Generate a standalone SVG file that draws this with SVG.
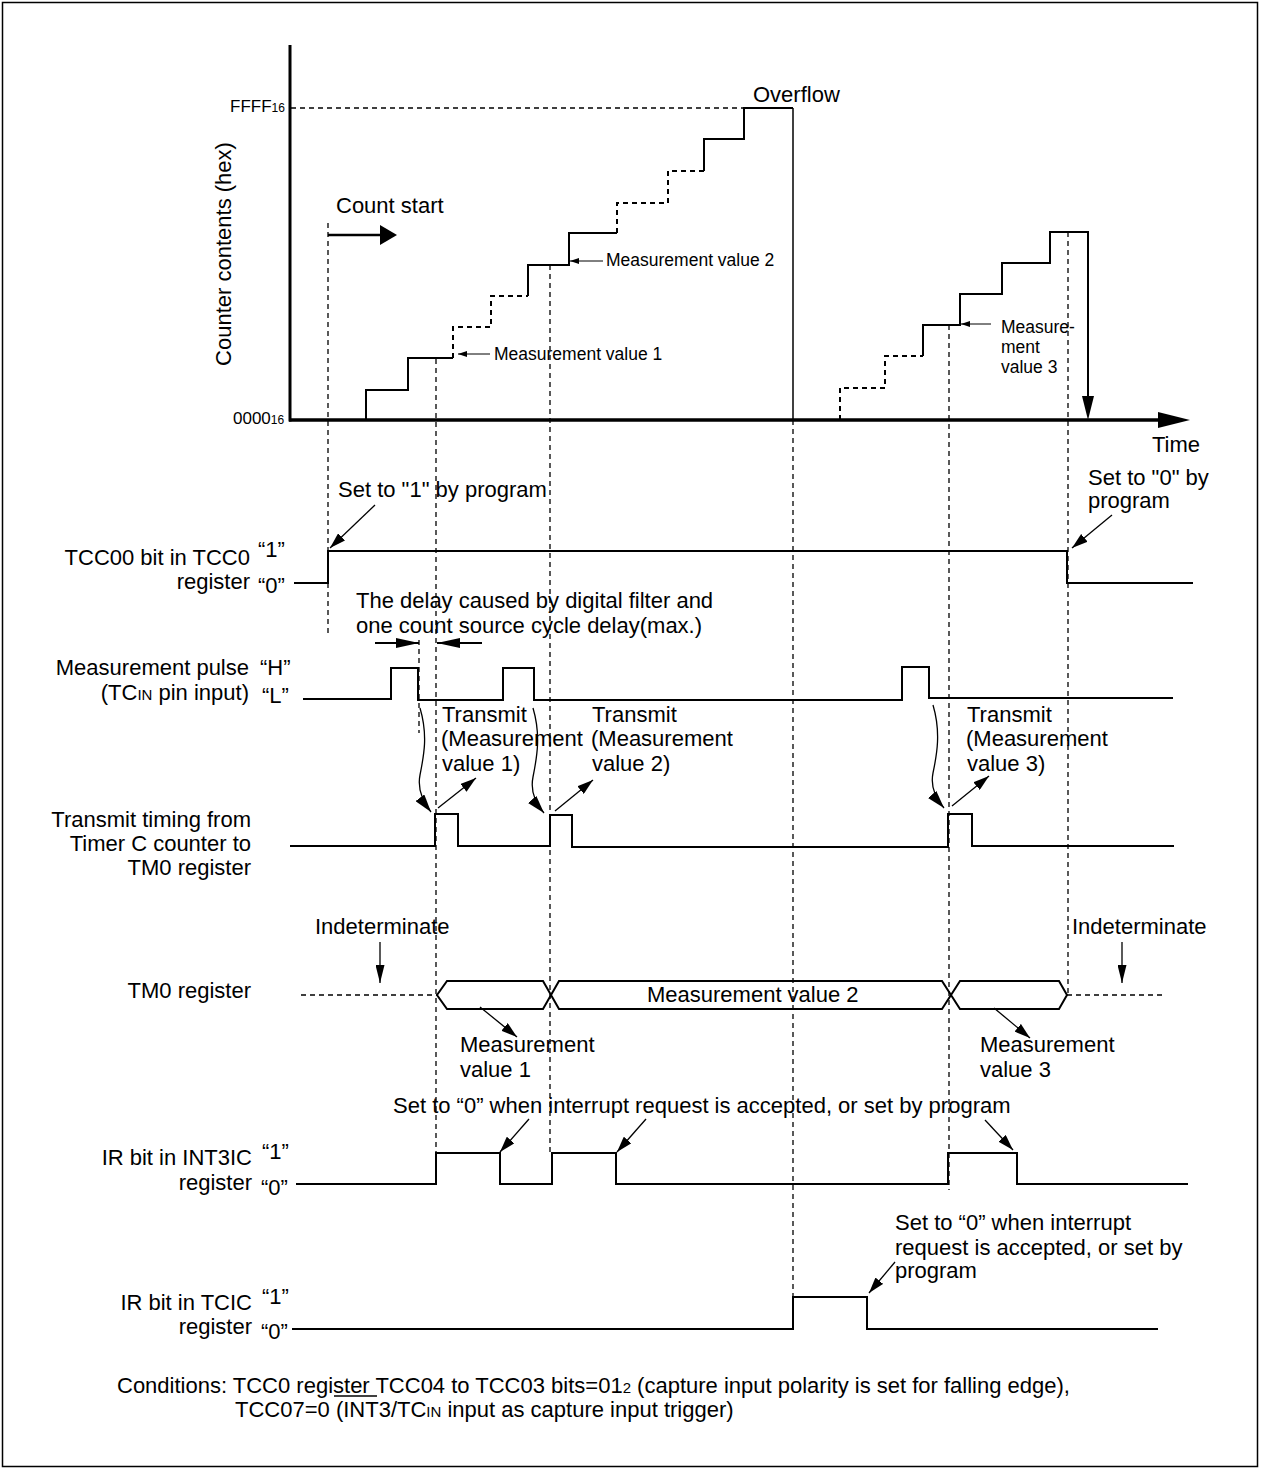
<svg xmlns="http://www.w3.org/2000/svg" width="1261" height="1470" viewBox="0 0 1261 1470">
<defs>
<style>
text { font-family: "Liberation Sans", Arial, Helvetica, sans-serif; fill: #000; }
.t { font-size: 22px; }
.s { font-size: 17.5px; }
.c { font-size: 22px; }
.e { text-anchor: end; }
.sig { fill: none; stroke: #000; stroke-width: 2; stroke-linejoin: miter; }
.sigd { fill: none; stroke: #000; stroke-width: 2; stroke-dasharray: 5 4; }
.dash { fill: none; stroke: #000; stroke-width: 1.3; stroke-dasharray: 5 4; }
.arr { fill: none; stroke: #000; stroke-width: 1.3; marker-end: url(#ah); }
.arrc { fill: none; stroke: #000; stroke-width: 1.3; marker-end: url(#ahc); }
.arrs { fill: none; stroke: #000; stroke-width: 1; marker-end: url(#ahs); }
.arrn { fill: none; stroke: #000; stroke-width: 1.3; marker-end: url(#ahn); }
.arrd { fill: none; stroke: #000; stroke-width: 2; marker-end: url(#ahd); }
</style>
<marker id="ah" markerUnits="userSpaceOnUse" markerWidth="16" markerHeight="10" refX="16" refY="5" orient="auto"><path d="M0,0 L16,5 L0,10 z"/></marker>
<marker id="ahc" markerUnits="userSpaceOnUse" markerWidth="18" markerHeight="11" refX="18" refY="5.5" orient="auto"><path d="M0,0 L18,5.5 L0,11 z"/></marker>
<marker id="ahs" markerUnits="userSpaceOnUse" markerWidth="9" markerHeight="6" refX="9" refY="3" orient="auto"><path d="M0,0 L9,3 L0,6 z"/></marker>
<marker id="ahn" markerUnits="userSpaceOnUse" markerWidth="18" markerHeight="9" refX="18" refY="4.5" orient="auto"><path d="M0,0 L18,4.5 L0,9 z"/></marker>
<marker id="ahd" markerUnits="userSpaceOnUse" markerWidth="23" markerHeight="10" refX="23" refY="5" orient="auto"><path d="M0,0 L23,5 L0,10 z"/></marker>
<marker id="ahb" markerUnits="userSpaceOnUse" markerWidth="17" markerHeight="20" refX="2" refY="10" orient="auto"><path d="M0,0 L17,10 L0,20 z"/></marker>
<marker id="ahv" markerUnits="userSpaceOnUse" markerWidth="24" markerHeight="12" refX="2" refY="6" orient="auto"><path d="M0,0 L24,6 L0,12 z"/></marker>
<marker id="ahx" markerUnits="userSpaceOnUse" markerWidth="32" markerHeight="16" refX="6" refY="8" orient="auto"><path d="M0,0 L32,8 L0,16 z"/></marker>
</defs>
<rect x="2.5" y="2.5" width="1255" height="1464" fill="#fff" stroke="#000" stroke-width="1.5"/>

<g id="graph">
<line x1="290" y1="45" x2="290" y2="421.5" stroke="#000" stroke-width="3"/>
<line x1="289" y1="420" x2="1164" y2="420" stroke="#000" stroke-width="3.5" marker-end="url(#ahx)"/>
<path class="dash" d="M291,108 H744"/>
<text x="230" y="112" style="font-size:17px">FFFF<tspan style="font-size:12px">16</tspan></text>
<text x="233" y="424" style="font-size:17px">0000<tspan style="font-size:12px">16</tspan></text>
<text class="t" transform="translate(231,254) rotate(-90)" text-anchor="middle">Counter contents (hex)</text>
<text class="t" x="336" y="213">Count start</text>
<line x1="328" y1="235" x2="382" y2="235" stroke="#000" stroke-width="2.5" marker-end="url(#ahb)"/>
<text class="t" x="753" y="102">Overflow</text>
<text class="t" x="1152" y="452">Time</text>
<path class="sig" d="M366,420 V390 H408 V358 H453"/>
<path class="sigd" d="M453,358 V327 H491 V296 H528"/>
<path class="sig" d="M528,296 V265 H569 V233 H617"/>
<path class="sigd" d="M617,233 V203 H668 V171 H704"/>
<path class="sig" d="M704,171 V139 H744 V108 H793"/>
<path fill="none" stroke="#000" stroke-width="1.5" d="M793,108 V420"/>
<path class="sigd" d="M840,420 V388 H885 V356 H923"/>
<path class="sig" d="M923,356 V325 H960 V294 H1002 V263 H1050 V232 H1088 V398" marker-end="url(#ahv)"/>
<line class="arrs" x1="490" y1="354" x2="458" y2="354"/>
<text class="s" x="494" y="360">Measurement value 1</text>
<line class="arrs" x1="603" y1="261" x2="570" y2="261"/>
<text class="s" x="606" y="266">Measurement value 2</text>
<line class="arrs" x1="991" y1="324" x2="961" y2="324"/>
<text class="s" x="1001" y="333">Measure-</text>
<text class="s" x="1001" y="353">ment</text>
<text class="s" x="1001" y="373">value 3</text>
</g>

<g id="guides">
<path class="dash" d="M328,223 V633"/>
<path class="dash" d="M436,359 V1153"/>
<path class="dash" d="M550,265 V1153"/>
<path class="dash" d="M793,420 V1297"/>
<path class="dash" d="M949,325 V1190"/>
<path class="dash" d="M1068,232 V995"/>
<path class="dash" d="M419,640 V733" stroke-dasharray="7 3 1 3"/>
</g>

<g id="tcc00">
<text class="t e" x="250" y="565">TCC00 bit in TCC0</text>
<text class="t" x="258" y="557">“1”</text>
<text class="t e" x="250" y="589">register</text>
<text class="t" x="258" y="593">“0”</text>
<path class="sig" d="M294,583 H328 V551 H1067 V583 H1193"/>
<text class="t" x="338" y="497">Set to "1" by program</text>
<text class="t" x="1088" y="485">Set to "0" by</text>
<text class="t" x="1088" y="508">program</text>
</g>

<g id="delay">
<text class="t" x="356" y="608">The delay caused by digital filter and</text>
<text class="t" x="356" y="633">one count source cycle delay(max.)</text>
</g>

<g id="pulse">
<text class="t e" x="249" y="675">Measurement pulse</text>
<text class="t" x="260" y="675">“H”</text>
<text class="t e" x="249" y="700">(TC<tspan style="font-size:15px">IN</tspan> pin input)</text>
<text class="t" x="262" y="703">“L”</text>
<path class="sig" d="M303,699 H391 V668 H418 V700 H503 V668 H534 V700 H902 V667 H929 V698 H1173"/>
</g>

<g id="transmit-labels">
<text class="t" x="442" y="722">Transmit</text>
<text class="t" x="441" y="746">(Measurement</text>
<text class="t" x="442" y="771">value 1)</text>
<text class="t" x="592" y="722">Transmit</text>
<text class="t" x="591" y="746">(Measurement</text>
<text class="t" x="592" y="771">value 2)</text>
<text class="t" x="967" y="722">Transmit</text>
<text class="t" x="966" y="746">(Measurement</text>
<text class="t" x="967" y="771">value 3)</text>
</g>

<g id="transmit-timing">
<text class="t e" x="251" y="827">Transmit timing from</text>
<text class="t e" x="251" y="851">Timer C counter to</text>
<text class="t e" x="251" y="875">TM0 register</text>
<path class="sig" d="M290,846 H435 V814 H458 V846 H550 V815 H572 V847 H948 V814 H972 V846 H1174"/>
</g>

<g id="tm0">
<text class="t" x="315" y="934">Indeterminate</text>
<text class="t" x="1072" y="934">Indeterminate</text>
<text class="t e" x="251" y="998">TM0 register</text>
<path class="dash" d="M301,995 H437"/>
<polygon class="sig" points="437,995 447,981 543,981 551,995 543,1009 447,1009"/>
<polygon class="sig" points="551,995 559,981 942,981 951,995 942,1009 559,1009"/>
<polygon class="sig" points="951,995 960,981 1059,981 1067,995 1059,1009 960,1009"/>
<path class="dash" d="M1067,995 H1162"/>
<text class="t" x="647" y="1002">Measurement value 2</text>
<text class="t" x="460" y="1052">Measurement</text>
<text class="t" x="460" y="1077">value 1</text>
<text class="t" x="980" y="1052">Measurement</text>
<text class="t" x="980" y="1077">value 3</text>
</g>

<g id="int3ic">
<text class="t" x="393" y="1113">Set to “0” when interrupt request is accepted, or set by program</text>
<text class="t e" x="252" y="1165">IR bit in INT3IC</text>
<text class="t" x="262" y="1159">“1”</text>
<text class="t e" x="252" y="1190">register</text>
<text class="t" x="261" y="1195">“0”</text>
<path class="sig" d="M296,1184 H436 V1153 H500 V1184 H552 V1153 H616 V1184 H948 V1153 H1017 V1184 H1188"/>
</g>

<g id="tcic">
<text class="t" x="895" y="1230">Set to “0” when interrupt</text>
<text class="t" x="895" y="1255">request is accepted, or set by</text>
<text class="t" x="895" y="1278">program</text>
<text class="t e" x="252" y="1310">IR bit in TCIC</text>
<text class="t" x="262" y="1304">“1”</text>
<text class="t e" x="252" y="1334">register</text>
<text class="t" x="261" y="1339">“0”</text>
<path class="sig" d="M292,1329 H793 V1297 H867 V1329 H1158"/>
</g>

<g id="conditions">
<text class="c" x="117" y="1393">Conditions: TCC0 register TCC04 to TCC03 bits=01<tspan style="font-size:15px">2</tspan> (capture input polarity is set for falling edge),</text>
<text class="c" x="235" y="1417">TCC07=0 (INT3/TC<tspan style="font-size:15px">IN</tspan> input as capture input trigger)</text>
<line x1="334" y1="1396" x2="377" y2="1396" stroke="#000" stroke-width="1.3"/>
</g>

<g id="connectors">
<line class="arr" x1="375" y1="505" x2="330" y2="548"/>
<line class="arr" x1="1112" y1="515" x2="1072" y2="548"/>
<line class="arrd" x1="375" y1="643" x2="419" y2="643"/>
<line class="arrd" x1="482" y1="643" x2="437" y2="643"/>
<path class="arrc" d="M420,708 C428,735 424,755 420,775 C417,790 424,803 431,812"/>
<path class="arrc" d="M533,708 C541,735 537,757 533,777 C530,792 537,805 544,813"/>
<path class="arrc" d="M933,705 C941,732 937,754 933,773 C930,788 937,800 944,808"/>
<line class="arr" x1="438" y1="808" x2="476" y2="778"/>
<line class="arr" x1="555" y1="811" x2="593" y2="780"/>
<line class="arr" x1="952" y1="806" x2="989" y2="776"/>
<line class="arrn" x1="380" y1="942" x2="380" y2="983"/>
<line class="arrn" x1="1122" y1="942" x2="1122" y2="983"/>
<line class="arr" x1="480" y1="1007" x2="517" y2="1037"/>
<line class="arr" x1="994" y1="1008" x2="1030" y2="1038"/>
<line class="arr" x1="529" y1="1119" x2="500" y2="1152"/>
<line class="arr" x1="646" y1="1119" x2="617" y2="1152"/>
<line class="arr" x1="985" y1="1120" x2="1013" y2="1150"/>
<line class="arr" x1="895" y1="1262" x2="869" y2="1293"/>
</g>
</svg>
